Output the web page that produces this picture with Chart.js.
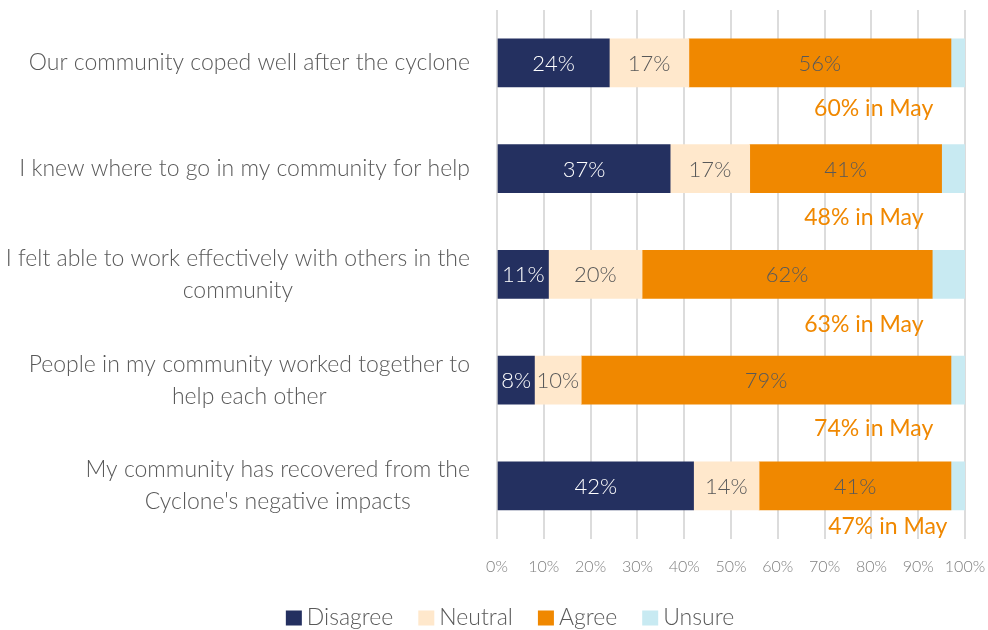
<!DOCTYPE html>
<html>
<head>
<meta charset="utf-8">
<title>Community response after the cyclone</title>
<script src="https://cdn.jsdelivr.net/npm/chart.js@4"></script>
<style>
  html, body { margin: 0; padding: 0; background: #fff; }
  #wrap { width: 988px; height: 630px; }
</style>
</head>
<body>
<div id="wrap"><canvas id="surveyChart" width="988" height="630"></canvas></div>
<script>
// survey statements (wrapped lines)
const statements = [
  ['Our community coped well after the cyclone'],
  ['I knew where to go in my community for help'],
  ['I felt able to work effectively with others in the', 'community'],
  ['People in my community worked together to', 'help each other'],
  ['My community has recovered from the', "Cyclone's negative impacts"]
];

const disagree = [24, 37, 11, 8, 42];
const neutral = [17, 17, 20, 10, 14];
const agree = [56, 41, 62, 79, 41];
const unsure = [3, 5, 7, 3, 3];

// agree share from the May survey
const mayAgree = [60, 48, 63, 74, 47];

const xTicks = ['0%', '10%', '20%', '30%', '40%', '50%', '60%', '70%', '80%', '90%', '100%'];

// where the "in May" notes sit: x in axis units, y offset below the bar centre
const mayNoteX = [80.5, 78.4, 78.4, 80.5, 83.5];
const mayNoteDy = [46, 49, 50, 48, 41];

const FONT = "'Segoe UI Light', Lato, 'Open Sans', sans-serif";
const GREY = '#595959';

const series = [
  { label: 'Disagree', data: disagree, color: '#243060', text: '#ffffff' },
  { label: 'Neutral', data: neutral, color: '#FFE8CC', text: GREY },
  { label: 'Agree', data: agree, color: '#F08800', text: GREY },
  { label: 'Unsure', data: unsure, color: '#C8EAF2', text: null }
];

const annotate = {
  id: 'annotate',
  afterDatasetsDraw(chart) {
    const ctx = chart.ctx;
    const xs = chart.scales.x;
    const ys = chart.scales.y;
    ctx.save();

    // values inside the segments
    ctx.font = '300 22px ' + FONT;
    ctx.textAlign = 'center';
    ctx.textBaseline = 'middle';
    series.forEach((s, d) => {
      if (!s.text) return;
      chart.getDatasetMeta(d).data.forEach((bar, i) => {
        ctx.fillStyle = s.text;
        ctx.fillText(s.data[i] + '%', (bar.x + bar.base) / 2, bar.y + 1);
      });
    });

    // May comparison notes
    ctx.font = '400 23px ' + FONT;
    ctx.fillStyle = '#F08800';
    mayAgree.forEach((v, i) => {
      ctx.fillText(v + '% in May', xs.getPixelForValue(mayNoteX[i]), ys.getPixelForValue(i) + mayNoteDy[i]);
    });

    // statement labels, each block right-aligned, lines centred
    ctx.font = '300 23px ' + FONT;
    ctx.fillStyle = GREY;
    statements.forEach((lines, i) => {
      const cy = ys.getPixelForValue(i);
      const w = Math.max(...lines.map(l => ctx.measureText(l).width));
      const cx = xs.left - 27 - w / 2;
      lines.forEach((l, j) => {
        ctx.fillText(l, cx, cy + (j - (lines.length - 1) / 2) * 32);
      });
    });

    // legend along the bottom
    ctx.font = '300 23px ' + FONT;
    ctx.textAlign = 'left';
    const box = 15, gapText = 6, gapItem = 25;
    const widths = series.map(s => box + gapText + ctx.measureText(s.label).width);
    const total = widths.reduce((a, b) => a + b, 0) + gapItem * (series.length - 1);
    let lx = (chart.width - total) / 2 + 16;
    const ly = 618;
    series.forEach((s, k) => {
      ctx.fillStyle = s.color;
      ctx.fillRect(lx, ly - box / 2, box + 1, box);
      ctx.fillStyle = GREY;
      ctx.fillText(s.label, lx + box + gapText, ly);
      lx += widths[k] + gapItem;
    });
    ctx.restore();
  }
};

new Chart(document.getElementById('surveyChart'), {
  type: 'bar',
  data: {
    labels: statements.map(l => l.join(' ')),
    datasets: series.map(s => ({
      label: s.label,
      data: s.data,
      backgroundColor: s.color,
      borderWidth: 0,
      barThickness: 48
    }))
  },
  options: {
    indexAxis: 'y',
    responsive: false,
    animation: false,
    layout: { padding: { top: 10, left: 489, right: 23, bottom: 36 } },
    plugins: {
      legend: { display: false },
      tooltip: { enabled: false }
    },
    scales: {
      x: {
        stacked: true,
        min: 0,
        max: 100,
        // outer labels may overhang the plot edges
        afterFit: (scale) => { scale.paddingLeft = 0; scale.paddingRight = 0; },
        ticks: {
          stepSize: 10,
          padding: 18,
          maxRotation: 0,
          autoSkip: false,
          color: '#7f7f7f',
          font: { family: FONT, size: 16, weight: 300 },
          callback: (v) => xTicks[v / 10]
        },
        grid: { color: '#dcdcdc', lineWidth: 2, drawTicks: false },
        border: { display: false }
      },
      y: {
        stacked: true,
        ticks: { display: false },
        grid: { display: false },
        border: { display: false }
      }
    }
  },
  plugins: [annotate]
});
</script>
</body>
</html>
